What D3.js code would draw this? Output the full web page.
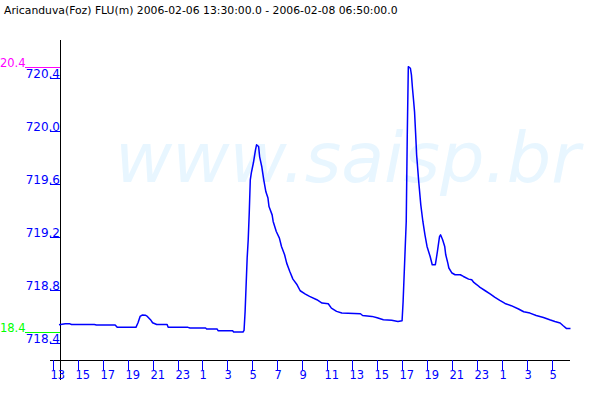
<!DOCTYPE html>
<html>
<head>
<meta charset="utf-8">
<script src="https://cdn.jsdelivr.net/npm/d3@7"></script>
<style>
  html, body { margin: 0; padding: 0; background: #ffffff; }
  svg { display: block; }
</style>
</head>
<body>
<svg id="chart" width="600" height="400"></svg>
<script>
const title = "Aricanduva(Foz) FLU(m) 2006-02-06 13:30:00.0 - 2006-02-08 06:50:00.0";
const watermark = "www.saisp.br";

const times = [
  "2006-02-06 13:30","2006-02-06 14:00","2006-02-06 14:20","2006-02-06 14:30","2006-02-06 16:20",
  "2006-02-06 16:30","2006-02-06 18:00","2006-02-06 18:10","2006-02-06 19:40","2006-02-06 19:50",
  "2006-02-06 20:00","2006-02-06 20:10","2006-02-06 20:25","2006-02-06 20:35","2006-02-06 20:50",
  "2006-02-06 21:00","2006-02-06 21:20","2006-02-06 22:10","2006-02-06 22:15","2006-02-06 23:50",
  "2006-02-07 00:00","2006-02-07 01:15","2006-02-07 01:20","2006-02-07 02:10","2006-02-07 02:15",
  "2006-02-07 03:25","2006-02-07 03:30","2006-02-07 04:15","2006-02-07 04:20","2006-02-07 04:25",
  "2006-02-07 04:35","2006-02-07 04:40","2006-02-07 04:45","2006-02-07 04:50","2006-02-07 04:55",
  "2006-02-07 05:05","2006-02-07 05:15","2006-02-07 05:20","2006-02-07 05:30","2006-02-07 05:35",
  "2006-02-07 05:45","2006-02-07 05:55","2006-02-07 06:05","2006-02-07 06:15","2006-02-07 06:20",
  "2006-02-07 06:35","2006-02-07 06:40","2006-02-07 06:55","2006-02-07 07:10","2006-02-07 07:20",
  "2006-02-07 07:35","2006-02-07 07:45","2006-02-07 08:00","2006-02-07 08:15","2006-02-07 08:35",
  "2006-02-07 08:50","2006-02-07 09:15","2006-02-07 09:35","2006-02-07 10:10","2006-02-07 10:35",
  "2006-02-07 11:05","2006-02-07 11:20","2006-02-07 11:45","2006-02-07 12:10","2006-02-07 13:40",
  "2006-02-07 13:50","2006-02-07 14:35","2006-02-07 15:00","2006-02-07 15:30","2006-02-07 16:10",
  "2006-02-07 16:40","2006-02-07 17:00","2006-02-07 17:05","2006-02-07 17:15","2006-02-07 17:20",
  "2006-02-07 17:25","2006-02-07 17:30","2006-02-07 17:40","2006-02-07 17:45","2006-02-07 17:50",
  "2006-02-07 17:55","2006-02-07 18:00","2006-02-07 18:05","2006-02-07 18:10","2006-02-07 18:20",
  "2006-02-07 18:30","2006-02-07 18:40","2006-02-07 18:50","2006-02-07 19:00","2006-02-07 19:15",
  "2006-02-07 19:25","2006-02-07 19:40","2006-02-07 19:45","2006-02-07 19:50","2006-02-07 20:00",
  "2006-02-07 20:05","2006-02-07 20:15","2006-02-07 20:25","2006-02-07 20:30","2006-02-07 20:40",
  "2006-02-07 20:45","2006-02-07 21:00","2006-02-07 21:15","2006-02-07 21:40","2006-02-07 21:55",
  "2006-02-07 22:20","2006-02-07 22:35","2006-02-07 22:45","2006-02-07 23:00","2006-02-07 23:15",
  "2006-02-07 23:40","2006-02-08 00:05","2006-02-08 00:25","2006-02-08 00:50","2006-02-08 01:15",
  "2006-02-08 01:45","2006-02-08 02:20","2006-02-08 02:45","2006-02-08 03:15","2006-02-08 03:45",
  "2006-02-08 04:20","2006-02-08 04:50","2006-02-08 05:15","2006-02-08 05:40","2006-02-08 05:55",
  "2006-02-08 06:10","2006-02-08 06:30"
];

const levels = [
  718.536,718.544,718.544,718.538,718.538,
  718.534,718.534,718.516,718.516,718.551,
  718.599,718.609,718.608,718.599,718.574,
  718.551,718.538,718.538,718.516,718.516,
  718.511,718.511,718.504,718.504,718.491,
  718.491,718.481,718.481,718.493,718.634,
  719.042,719.179,719.383,719.632,719.685,
  719.761,719.859,719.897,719.884,719.806,
  719.733,719.630,719.541,719.494,719.430,
  719.367,719.317,719.241,719.191,719.128,
  719.065,719.002,718.939,718.881,718.838,
  718.793,718.768,718.750,718.725,718.700,
  718.695,718.662,718.637,718.624,718.619,
  718.606,718.599,718.589,718.574,718.569,
  718.561,718.566,718.712,719.116,719.317,
  719.972,720.488,720.476,720.426,720.325,
  720.238,720.146,719.987,719.821,719.619,
  719.443,719.317,719.216,719.128,719.052,
  718.990,718.990,719.040,719.090,719.203,
  719.216,719.179,719.128,719.065,719.002,
  718.965,718.927,718.914,718.914,718.901,
  718.881,718.876,718.856,718.838,718.818,
  718.793,718.768,718.745,718.720,718.697,
  718.680,718.655,718.634,718.624,718.606,
  718.591,718.574,718.561,718.549,718.528,
  718.508,718.508
];

const yTickValues = [718.4, 718.8, 719.2, 719.6, 720.0, 720.4];
const xTickStart = "2006-02-06 13:00";
const xTickEnd = "2006-02-08 06:00";
const xDomain = ["2006-02-06 13:30", "2006-02-08 06:30"];

const parse = d3.timeParse("%Y-%m-%d %H:%M");
const data = times.map((t, i) => ({ t: parse(t), v: levels[i] }));

const svg = d3.select("#chart");
const font = "DejaVu Sans, sans-serif";

const x = d3.scaleTime().domain(xDomain.map(parse)).range([59, 570.5]);
const y = d3.scaleLinear().domain([718.4, 720.4]).range([342.7, 78.3]);

// watermark
svg.append("text")
  .attr("x", 115).attr("y", 182)
  .attr("font-family", font).attr("font-style", "italic")
  .attr("font-size", 70)
  .attr("textLength", 465).attr("lengthAdjust", "spacingAndGlyphs")
  .attr("fill", "#e8f6ff")
  .text(watermark);

// title
svg.append("text")
  .attr("x", 4).attr("y", 14)
  .attr("font-family", font).attr("font-size", 10.8)
  .attr("fill", "#000")
  .text(title);

// axes lines
svg.append("line").attr("x1", 60.5).attr("x2", 60.5).attr("y1", 40).attr("y2", 380)
  .attr("stroke", "#000").attr("stroke-width", 1);
svg.append("line").attr("x1", 50).attr("x2", 570).attr("y1", 360.5).attr("y2", 360.5)
  .attr("stroke", "#000").attr("stroke-width", 1);

// y ticks
const yg = svg.append("g");
yTickValues.forEach(v => {
  const yy = Math.round(y(v)) + 0.5;
  yg.append("line").attr("x1", 50).attr("x2", 60).attr("y1", yy).attr("y2", yy)
    .attr("stroke", "#0000ff").attr("stroke-width", 1);
  yg.append("text").attr("x", 60).attr("y", yy - 1)
    .attr("text-anchor", "end")
    .attr("font-family", font).attr("font-size", 12)
    .attr("fill", "#0000ff")
    .text(v.toFixed(1));
});

// x ticks (odd hours)
const xTicks = d3.timeHour.range(parse(xTickStart), d3.timeMinute.offset(parse(xTickEnd), 1))
  .filter(d => d.getHours() % 2 === 1);
const fmtH = d3.timeFormat("%-H");
const xg = svg.append("g");
xTicks.forEach(d => {
  const xx = Math.round(x(d)) + 0.5;
  xg.append("line").attr("x1", xx).attr("x2", xx).attr("y1", 360).attr("y2", 370)
    .attr("stroke", "#0000ff").attr("stroke-width", 1);
  xg.append("text").attr("x", xx - 3).attr("y", 379)
    .attr("font-family", font).attr("font-size", 11.5)
    .attr("fill", "#0000ff")
    .text(fmtH(d));
});

// max / min markers
const maxV = d3.max(levels), minV = d3.min(levels);
const trunc = v => (Math.floor(v * 10) / 10).toFixed(1);
[[maxV, "#ff00ff"], [minV, "#00ff00"]].forEach(([v, c]) => {
  const yy = Math.round(y(v)) + 0.5;
  svg.append("line").attr("x1", 25).attr("x2", 60).attr("y1", yy).attr("y2", yy)
    .attr("stroke", c).attr("stroke-width", 1);
  svg.append("text").attr("x", 25.5).attr("y", yy - 1)
    .attr("text-anchor", "end")
    .attr("font-family", font).attr("font-size", 11.5)
    .attr("fill", c)
    .text(trunc(v));
});

// series line
const line = d3.line().x(d => x(d.t)).y(d => y(d.v));
svg.append("path").datum(data)
  .attr("d", line)
  .attr("fill", "none")
  .attr("stroke", "#0000ff")
  .attr("stroke-width", 1.5)
  .attr("stroke-linejoin", "round");
</script>
</body>
</html>
